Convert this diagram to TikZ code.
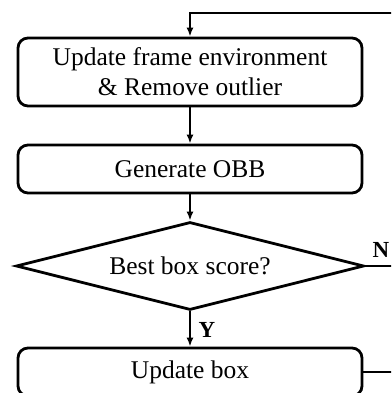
\documentclass[tikz,border=0pt]{standalone}
\usepackage{fontspec}
\setmainfont{Liberation Serif}
\usetikzlibrary{shapes.geometric,arrows.meta}
\begin{document}
\begin{tikzpicture}[x=1pt,y=-1pt,
  line width=2.8pt,
  boxstyle/.style={draw, rounded corners=10pt, minimum width=344pt, inner sep=0pt, align=center, font=\fontsize{25.5}{30}\selectfont},
  decision/.style={draw, diamond, shape aspect=3.95, minimum width=348pt, minimum height=88pt, inner sep=0pt, font=\fontsize{25.5}{30}\selectfont},
  flow/.style={-{Latex[length=9pt,width=7pt]}},
  lbl/.style={font=\fontsize{23}{26}\selectfont\bfseries}]
\useasboundingbox (0,0) rectangle (391,393);
\clip (0,0) rectangle (391,393);
\node[boxstyle, minimum height=68pt] (b1) at (190,72) {Update frame environment\\\& Remove outlier};
\node[boxstyle, minimum height=48pt] (b2) at (190,169) {Generate OBB};
\node[decision] (d) at (190,266) {Best box score?};
\node[boxstyle, minimum height=48pt] (b3) at (190,372) {Update box};
\coordinate (rb) at (405,372);
\coordinate (rt) at (405,13);
\coordinate (tl) at (190,13);
\coordinate (rn) at (405,266);
\draw[flow] (b1) -- (b2);
\draw[flow] (b2) -- (d);
\draw[flow] (d) -- (b3);
\draw[flow] (b3.east) -- (rb) -- (rt) -- (tl) -- (b1.north);
\draw (d.east) -- (rn);
\node[lbl] (nl) at (381,250) {N};
\node[lbl] (yl) at (207,330) {Y};
\end{tikzpicture}
\end{document}
